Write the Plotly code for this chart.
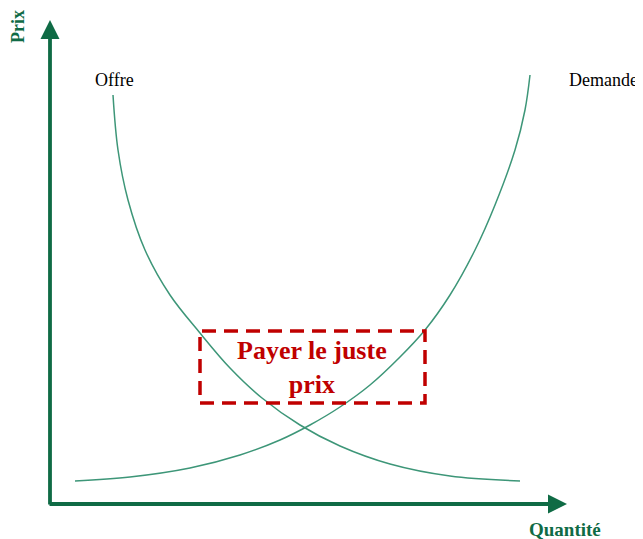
import plotly.graph_objects as go

# Curve data in chart coordinates (origin at the axes corner, y up)
offre_q = [63, 68, 78, 95, 120, 150, 180, 212, 250, 290, 340, 400, 470]
offre_p = [409, 354, 304, 254, 209, 171, 136, 106, 79, 58, 40, 28, 23]

demande_q = [25, 80, 140, 190, 230, 260, 290, 320, 350, 375, 400, 425, 445, 465, 475, 480]
demande_p = [23, 27, 36, 49, 64, 79, 97, 119, 147, 174, 209, 254, 299, 354, 394, 429]

curve_color = "#3d9678"
axis_color = "#0f6b45"
red = "#c00000"
font_serif = "Liberation Serif"

fig = go.Figure()
fig.add_trace(go.Scatter(x=offre_q, y=offre_p, mode="lines",
                         line=dict(color=curve_color, width=1.5, shape="spline"),
                         hoverinfo="skip", showlegend=False))
fig.add_trace(go.Scatter(x=demande_q, y=demande_p, mode="lines",
                         line=dict(color=curve_color, width=1.5, shape="spline"),
                         hoverinfo="skip", showlegend=False))

# Axes with arrows
fig.add_annotation(x=0, y=484, ax=0, ay=-2, xref="x", yref="y", axref="x", ayref="y",
                   showarrow=True, arrowhead=2, arrowsize=1, arrowwidth=3.8,
                   arrowcolor=axis_color, text="")
fig.add_annotation(x=517, y=0, ax=-2, ay=0, xref="x", yref="y", axref="x", ayref="y",
                   showarrow=True, arrowhead=2, arrowsize=1, arrowwidth=3.8,
                   arrowcolor=axis_color, text="")

# Labels
fig.add_annotation(x=-32, y=477, text="<b>Prix</b>", textangle=-90, showarrow=False,
                   font=dict(family=font_serif, size=18, color=axis_color))
fig.add_annotation(x=515, y=-25, text="<b>Quantité</b>", showarrow=False,
                   font=dict(family=font_serif, size=19, color=axis_color))
fig.add_annotation(x=64, y=424, text="Offre", showarrow=False,
                   font=dict(family=font_serif, size=18, color="black"))
fig.add_annotation(x=553, y=424, text="Demande", showarrow=False,
                   font=dict(family=font_serif, size=18, color="black"))

# Dashed box and text
fig.add_shape(type="rect", x0=150, x1=375, y0=101, y1=173, xref="x", yref="y",
              line=dict(color=red, width=3.5, dash="14px,8px"))
fig.add_annotation(x=262, y=137, text="<b>Payer le juste<br>prix</b>", showarrow=False,
                   font=dict(family=font_serif, size=26, color=red))

# The page has an 8px body margin, so the figure is shrunk and the ranges shifted
fig.update_xaxes(range=[-42, 593], visible=False)
fig.update_yaxes(range=[-35, 496], visible=False)
fig.update_layout(width=635, height=531, margin=dict(l=0, r=0, t=0, b=0),
                  plot_bgcolor="white", paper_bgcolor="white")

fig.write_html("out.html")
